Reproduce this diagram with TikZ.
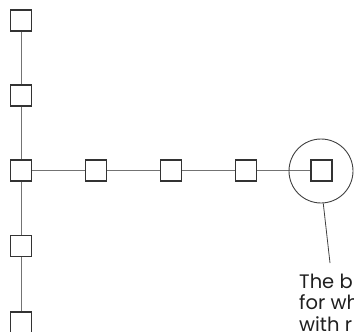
\documentclass[tikz,border=0pt]{standalone}
\usepackage{fontspec}
\setmainfont{Poppins}
\begin{document}
\begin{tikzpicture}[x=1pt,y=-1pt,
  box/.style={draw=black!80,line width=1.1pt,fill=white,minimum size=21pt,inner sep=0pt},
  link/.style={draw=black!55,line width=1pt},
  ring/.style={draw=black!75,line width=0.9pt,circle,minimum size=64pt,inner sep=0pt},
  lead/.style={draw=black!75,line width=0.8pt}]
\useasboundingbox (0,0) rectangle (354,332);
\begin{scope}
\clip (0,0) rectangle (354,332);
% vertical column
\node[box] (v1) at (21,20.5) {};
\node[box] (v2) at (21,95.5) {};
\node[box] (v3) at (21,170.5) {};
\node[box] (v4) at (21,246) {};
\node[box] (v5) at (21,322.5) {};
% horizontal row
\node[box] (h1) at (96,170.5) {};
\node[box] (h2) at (171,170.5) {};
\node[box] (h3) at (246,170.5) {};
\node[box] (h4) at (321.5,170.5) {};
\draw[link] (v1) -- (v2);
\draw[link] (v2) -- (v3);
\draw[link] (v3) -- (v4);
\draw[link] (v4) -- (v5);
\draw[link] (v3) -- (h1);
\draw[link] (h1) -- (h2);
\draw[link] (h2) -- (h3);
\draw[link] (h3) -- (h4);
\node[ring] (ring) at (321,171) {};
\coordinate (leadend) at (330,263);
\draw[lead] (ring.274) -- (leadend);
\node[anchor=base west,align=left,font=\fontsize{19.5}{21.5}\selectfont,text=black!88,inner sep=0pt] (note) at (299,331) {The b\\for wh\\with r};
\end{scope}
\end{tikzpicture}
\end{document}
